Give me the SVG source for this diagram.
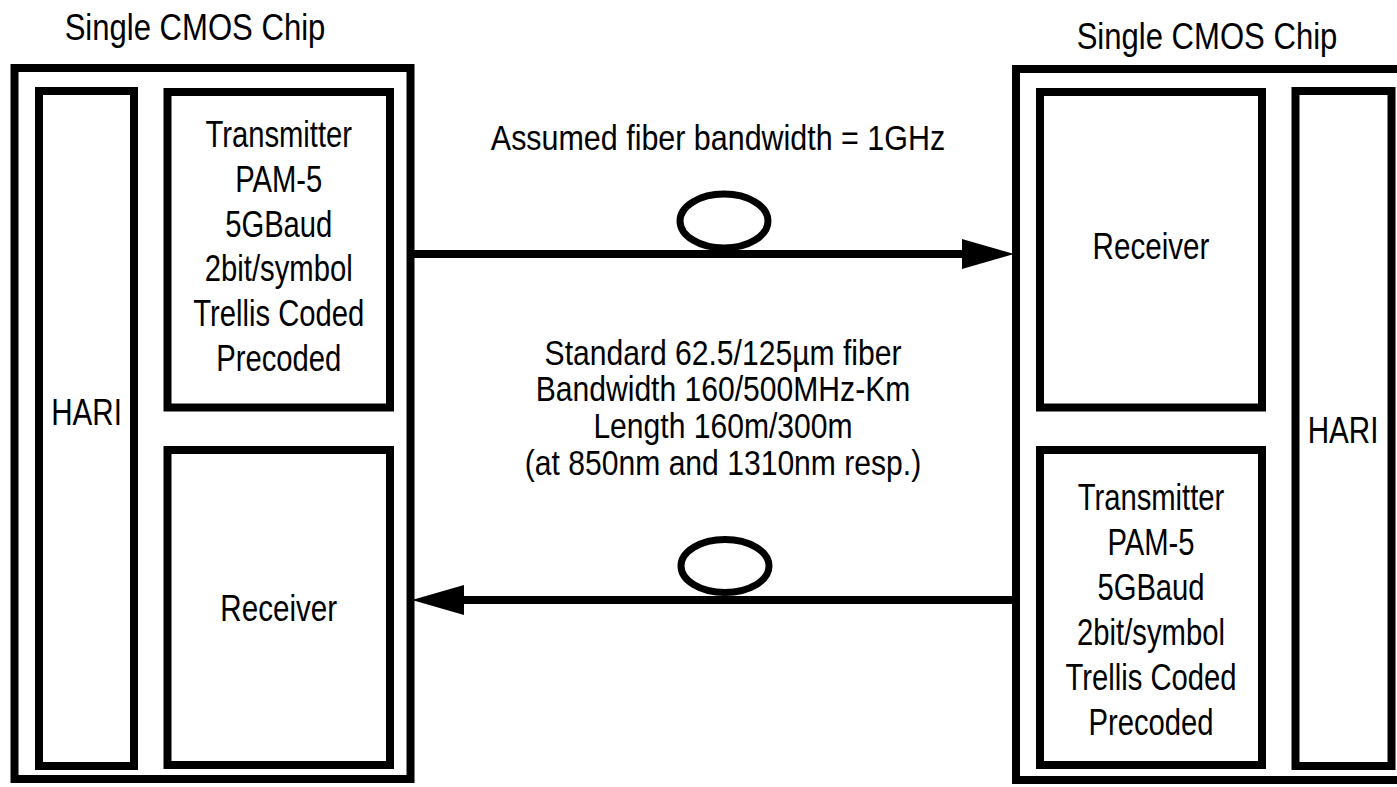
<svg xmlns="http://www.w3.org/2000/svg" width="1397" height="787" viewBox="0 0 1397 787">
<style>
.box{fill:none;stroke:#000;stroke-width:8}
.t{font-family:"Liberation Sans",Arial,sans-serif;font-size:37px;fill:#000;text-anchor:middle}
.m{font-family:"Liberation Sans",Arial,sans-serif;font-size:35px;fill:#000;text-anchor:middle}
.conn{stroke:#000;stroke-width:8;fill:none}
.loop{fill:none;stroke:#000;stroke-width:7}
</style>
<defs>
<marker id="ah" markerUnits="userSpaceOnUse" viewBox="0 0 52 30" refX="0" refY="15" markerWidth="52" markerHeight="30" orient="auto">
<path d="M0,0 L52,15 L0,30 Z" fill="#000"/>
</marker>
</defs>
<rect width="1397" height="787" fill="#fff"/>

<g id="chipLeft">
<rect class="box" x="14.5" y="68" width="396" height="711"/>
<text class="t" transform="translate(195 40) scale(0.84 1)">Single CMOS Chip</text>
</g>
<g id="hariLeft">
<rect class="box" x="39" y="91" width="95" height="675"/>
<text class="t" transform="translate(86.5 425) scale(0.8 1)">HARI</text>
</g>
<g id="txLeft">
<rect class="box" x="167.5" y="92" width="222.5" height="315.5"/>
<text class="t" transform="translate(278.75 0) scale(0.79 1)"><tspan x="0" y="147">Transmitter</tspan><tspan x="0" y="192">PAM-5</tspan><tspan x="0" y="237">5GBaud</tspan><tspan x="0" y="281">2bit/symbol</tspan><tspan x="0" y="326">Trellis Coded</tspan><tspan x="0" y="371">Precoded</tspan></text>
</g>
<g id="rxLeft">
<rect class="box" x="167.5" y="450" width="222.5" height="315"/>
<text class="t" transform="translate(278.75 621) scale(0.8 1)">Receiver</text>
</g>

<g id="chipRight">
<rect class="box" x="1016" y="69" width="400" height="711"/>
<text class="t" transform="translate(1207 49) scale(0.84 1)">Single CMOS Chip</text>
</g>
<g id="rxRight">
<rect class="box" x="1040" y="92" width="222" height="315.5"/>
<text class="t" transform="translate(1151 259) scale(0.8 1)">Receiver</text>
</g>
<g id="hariRight">
<rect class="box" x="1295.5" y="91" width="96" height="675"/>
<text class="t" transform="translate(1343 443) scale(0.8 1)">HARI</text>
</g>
<g id="txRight">
<rect class="box" x="1040" y="450" width="222" height="315"/>
<text class="t" transform="translate(1151 0) scale(0.79 1)"><tspan x="0" y="510">Transmitter</tspan><tspan x="0" y="555">PAM-5</tspan><tspan x="0" y="600">5GBaud</tspan><tspan x="0" y="645">2bit/symbol</tspan><tspan x="0" y="690">Trellis Coded</tspan><tspan x="0" y="735">Precoded</tspan></text>
</g>

<g id="labels">
<text class="m" transform="translate(718 150) scale(0.87 1)">Assumed fiber bandwidth = 1GHz</text>
<text class="m" transform="translate(723 0) scale(0.86 1)"><tspan x="0" y="365">Standard 62.5/125µm fiber</tspan><tspan x="0" y="401">Bandwidth 160/500MHz-Km</tspan><tspan x="0" y="438">Length 160m/300m</tspan><tspan x="0" y="475">(at 850nm and 1310nm resp.)</tspan></text>
</g>

<g id="connectors">
<line class="conn" x1="410" y1="254" x2="962" y2="254" marker-end="url(#ah)"/>
<ellipse class="loop" cx="724" cy="221" rx="44" ry="27"/>
<line class="conn" x1="1016" y1="600" x2="464" y2="600" marker-end="url(#ah)"/>
<ellipse class="loop" cx="725" cy="566" rx="44" ry="26.5"/>
</g>
</svg>
